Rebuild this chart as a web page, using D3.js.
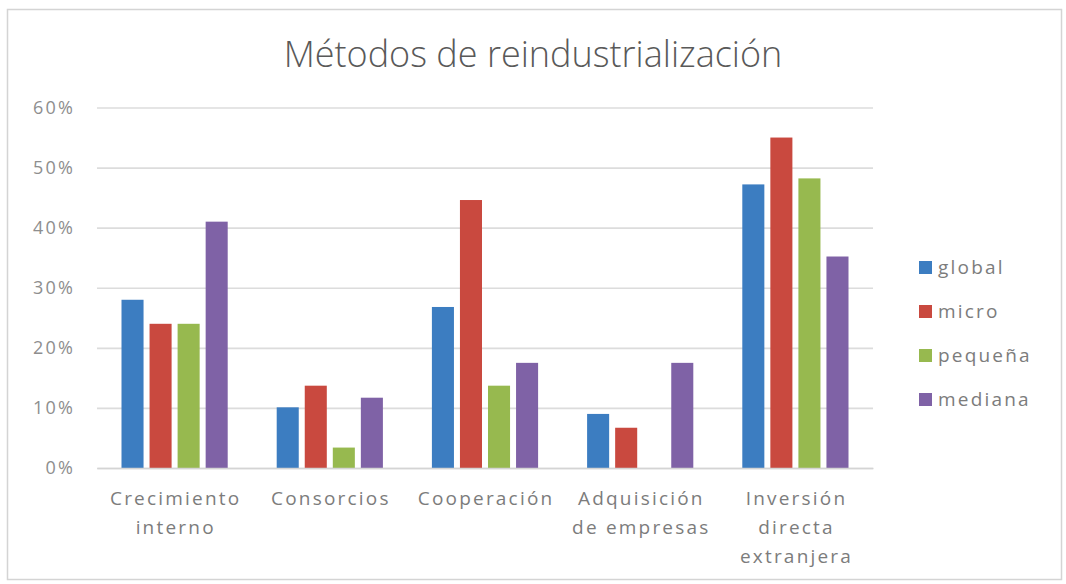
<!DOCTYPE html>
<html>
<head>
<meta charset="utf-8">
<script src="https://cdn.jsdelivr.net/npm/d3@7"></script>
<style>
  html, body { margin: 0; padding: 0; background: #fff; }
  svg { display: block; }
</style>
</head>
<body>
<svg id="chart" width="1066" height="584"></svg>
<script>
// Categorías y series
const categories = [
  ["Crecimiento", "interno"],
  ["Consorcios"],
  ["Cooperación"],
  ["Adquisición", "de empresas"],
  ["Inversión", "directa", "extranjera"]
];
const seriesNames = ["global", "micro", "pequeña", "mediana"];
const seriesColors = ["#3c7dc1", "#c9493f", "#97b94f", "#7f62a6"];

// Porcentajes por serie (en el orden de las categorías)
const globalVals  = [28, 10.1, 26.8, 9.0, 47.2];
const microVals   = [24, 13.7, 44.6, 6.7, 55.0];
const pequenaVals = [24, 3.4, 13.7, 0, 48.2];
const medianaVals = [41, 11.7, 17.5, 17.5, 35.2];

const yTicks = [0, 10, 20, 30, 40, 50, 60];

const values = [globalVals, microVals, pequenaVals, medianaVals];
const catKeys = categories.map(c => c.join(" "));

const svg = d3.select("#chart");
const font = "'Open Sans', sans-serif";
const labelSize = 19;
const labelSpacing = 2.2;
const labelColor = "#7c7c7c";

// Marco del gráfico
svg.append("rect")
  .attr("x", 7.5).attr("y", 9.5)
  .attr("width", 1054).attr("height", 570)
  .attr("fill", "#fff")
  .attr("stroke", "#d4d4d4").attr("stroke-width", 1.5);

// Título
svg.append("text")
  .attr("x", 533).attr("y", 67)
  .attr("text-anchor", "middle")
  .attr("font-family", font)
  .attr("font-weight", 300)
  .attr("font-size", 36)
  .attr("fill", "#595959")
  .text("Métodos de reindustrialización");

const plot = { left: 97, right: 873, top: 107.5, bottom: 468 };

const x0 = d3.scaleBand()
  .domain(catKeys)
  .range([plot.left, plot.right])
  .paddingInner(0).paddingOuter(0);

const groupOffset = 24.5;
const x1 = d3.scaleBand()
  .domain(seriesNames)
  .range([groupOffset, x0.bandwidth() - groupOffset])
  .paddingInner(0.214).paddingOuter(0);

const y = d3.scaleLinear()
  .domain([0, 60])
  .range([plot.bottom, plot.top]);

// Líneas de cuadrícula y etiquetas del eje Y
const yAxis = d3.axisLeft(y)
  .tickValues(yTicks)
  .tickSize(-(plot.right - plot.left))
  .tickPadding(22)
  .tickFormat(d => d + "%");

const gy = svg.append("g")
  .attr("transform", `translate(${plot.left},0)`)
  .call(yAxis);
gy.select(".domain").remove();
gy.selectAll(".tick line")
  .attr("stroke", "#dcdcdc")
  .attr("stroke-width", 1.6);
gy.selectAll(".tick text")
  .attr("font-family", font)
  .attr("font-size", labelSize - 1)
  .attr("letter-spacing", labelSpacing)
  .attr("fill", "#8e8e8e");

// Barras
const groups = svg.append("g")
  .selectAll("g")
  .data(catKeys)
  .join("g")
  .attr("transform", d => `translate(${x0(d)},0)`);

groups.selectAll("rect")
  .data((d, i) => seriesNames.map((s, j) => ({ s, v: values[j][i], c: seriesColors[j] })))
  .join("rect")
  .filter(d => d.v > 0)
  .attr("x", d => x1(d.s))
  .attr("y", d => y(d.v))
  .attr("width", x1.bandwidth())
  .attr("height", d => y(0) - y(d.v))
  .attr("fill", d => d.c);

// Eje X (línea base y etiquetas)
const xAxis = d3.axisBottom(x0).tickSize(0).tickFormat("");
const gx = svg.append("g")
  .attr("transform", `translate(0,${plot.bottom})`)
  .call(xAxis);
gx.select(".domain")
  .attr("stroke", "#d4d4d4")
  .attr("stroke-width", 1.6);

categories.forEach((lines, i) => {
  const cx = x0(catKeys[i]) + x0.bandwidth() / 2 + labelSpacing / 2;
  const t = svg.append("text")
    .attr("text-anchor", "middle")
    .attr("font-family", font)
    .attr("font-size", labelSize)
    .attr("letter-spacing", labelSpacing)
    .attr("fill", labelColor);
  lines.forEach((ln, k) => {
    t.append("tspan")
      .attr("x", cx)
      .attr("y", 505 + k * 29)
      .text(ln);
  });
});

// Leyenda
const legend = svg.append("g")
  .selectAll("g")
  .data(seriesNames)
  .join("g")
  .attr("transform", (d, i) => `translate(919,${267 + i * 44})`);

legend.append("rect")
  .attr("x", 0).attr("y", -6)
  .attr("width", 13).attr("height", 13)
  .attr("fill", (d, i) => seriesColors[i]);

legend.append("text")
  .attr("x", 19).attr("y", 7)
  .attr("font-family", font)
  .attr("font-size", labelSize)
  .attr("letter-spacing", labelSpacing)
  .attr("fill", labelColor)
  .text(d => d);
</script>
</body>
</html>
